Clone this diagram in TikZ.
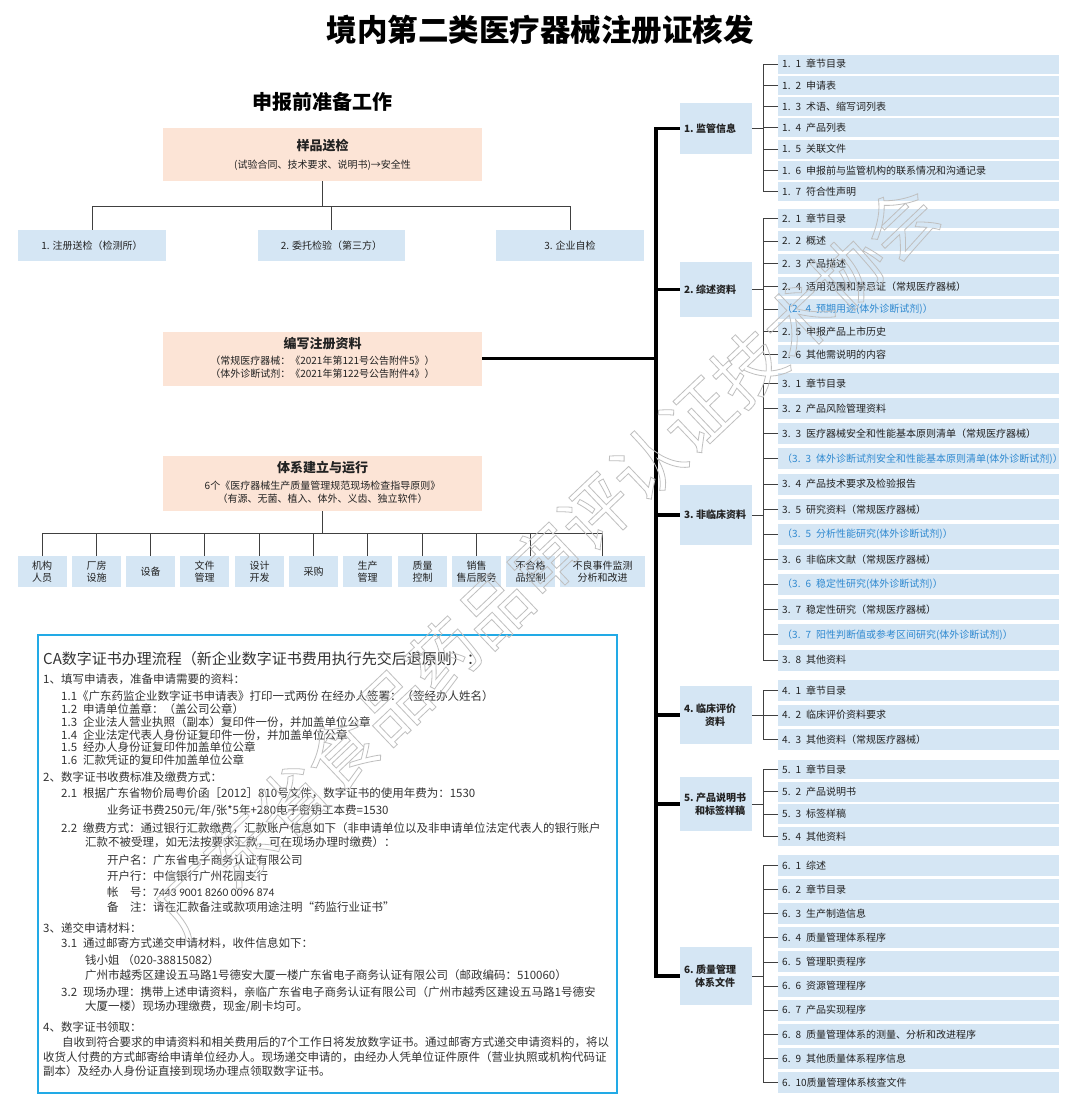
\documentclass[tikz,border=0pt]{standalone}
\usepackage{fontspec}
\setmainfont{Noto Sans CJK SC}
\newfontfamily\carl{Carlito}
\definecolor{peachc}{HTML}{FCE4D6}
\definecolor{boxblue}{HTML}{D5E6F4}
\definecolor{cablue}{HTML}{22AAE6}
\definecolor{bluetxt}{HTML}{2F89D0}
\definecolor{txt}{HTML}{222222}
\definecolor{catxt}{HTML}{333333}
\definecolor{linec}{HTML}{404040}
\newcommand\ggap{\hspace{5pt}}
\newcommand\cgap{\hspace{6pt}}
\newcommand\bluet[1]{\textcolor{bluetxt}{#1}}
\newcommand\catl[2]{\mbox{#1.\hspace{2.5pt}#2}}
\tikzset{
 conn/.style={draw=linec, line width=0.9pt},
 trunk/.style={draw=black, line width=3.4pt},
 peach/.style={fill=peachc, minimum width=319pt, minimum height=#1, inner sep=0pt},
 lbox/.style={fill=boxblue, minimum width=#1, minimum height=31pt, inner sep=1pt, align=center, font=\fontsize{10}{11.6}\selectfont, text=txt},
 ttl/.style={font=\fontsize{13}{15}\selectfont\bfseries, text=txt, inner sep=0pt},
 sub/.style={font=\fontsize{10}{12}\selectfont, text=txt, inner sep=0pt},
 caline/.style={anchor=west, font=\fontsize{11.5}{13}\selectfont, text=catxt, inner sep=0pt},
 item/.style={fill=boxblue, anchor=west, minimum height=#1, text width=273pt, inner xsep=4pt, inner ysep=0pt, align=left, font=\fontsize{10}{12}\selectfont, text=txt},
 cat/.style={fill=boxblue, minimum width=72pt, minimum height=#1, text width=64pt, inner xsep=4pt, inner ysep=0pt, align=left, font=\fontsize{10}{13}\selectfont\bfseries, text=txt},
 wm/.style={rotate=43.5, font=\fontsize{70}{70}\selectfont, text=gray!50, inner sep=0pt}
}
\begin{document}
\begin{tikzpicture}[x=1pt,y=-1pt]
\path[use as bounding box, fill=white] (0,0) rectangle (1080,1109);

% titles
\node[font=\fontsize{30.5}{32}\selectfont\bfseries, text=black, inner sep=0pt] (title) at (540,30) {境内第二类医疗器械注册证核发};
\node[font=\fontsize{20}{22}\selectfont\bfseries, text=black, inner sep=0pt] (sect) at (322.5,102) {申报前准备工作};

% sample box
\node[peach=53pt] (p1) at (322.5,154.5) {};
\node[ttl] (p1a) at (322.5,146) {样品送检};
\node[sub] (p1b) at (322.5,165) {(试验合同、技术要求、说明书)→安全性};
\node[lbox=148pt] (b1) at (92,245.5) {1. 注册送检（检测所）};
\node[lbox=147pt] (b2) at (331.5,245.5) {2. 委托检验（第三方）};
\node[lbox=148pt] (b3) at (570,245.5) {3. 企业自检};
\coordinate (j1) at (322.5,206);
\draw[conn] (p1.south) -- (j1);
\draw[conn] (b1.north) |- (b3.north |- j1) -- (b3.north);
\draw[conn] (b2.north) -- (b2.north |- j1);

% writing box
\node[peach=54pt] (p2) at (322.5,358.5) {};
\node[ttl] (p2a) at (322.5,344) {编写注册资料};
\node[sub] (p2b) at (322.5,361) {（常规医疗器械：《2021年第121号公告附件5》）};
\node[sub] (p2c) at (322.5,374) {（体外诊断试剂：《2021年第122号公告附件4》）};

% system box
\node[peach=55pt] (p3) at (322.5,483.5) {};
\node[ttl] (p3a) at (322.5,468) {体系建立与运行};
\node[sub] (p3b) at (322.5,486) {6个《医疗器械生产质量管理规范现场检查指导原则》};
\node[sub] (p3c) at (322.5,499) {（有源、无菌、植入、体外、义齿、独立软件）};

\node[lbox=49pt] (r1) at (42,571.5) {机构\\人员};
\node[lbox=49pt] (r2) at (96.5,571.5) {厂房\\设施};
\node[lbox=49pt] (r3) at (150.5,571.5) {设备};
\node[lbox=49pt] (r4) at (204.5,571.5) {文件\\管理};
\node[lbox=49pt] (r5) at (259.5,571.5) {设计\\开发};
\node[lbox=49pt] (r6) at (313.5,571.5) {采购};
\node[lbox=49pt] (r7) at (367.5,571.5) {生产\\管理};
\node[lbox=49pt] (r8) at (422.5,571.5) {质量\\控制};
\node[lbox=49pt] (r9) at (476.5,571.5) {销售\\售后服务};
\node[lbox=49pt] (r10) at (530.5,571.5) {不合格\\品控制};
\node[lbox=85pt] (r11) at (602.5,571.5) {不良事件监测\\分析和改进};
\coordinate (j3) at (322.5,533);
\draw[conn] (p3.south) -- (j3);
\draw[conn] (r1.north) |- (r11.north |- j3) -- (r11.north);
\foreach \r in {r2,r3,r4,r5,r6,r7,r8,r9,r10} \draw[conn] (\r.north) -- (\r.north |- j3);

% CA box
\draw[draw=cablue, line width=2.5pt] (38,635) rectangle (617,1093);
\node[caline, font=\fontsize{15}{17}\selectfont] (ca0) at (43,659) {CA数字证书办理流程（新企业数字证书费用执行先交后退原则）：};
\node[caline] (ca1) at (43,679) {1、填写申请表，准备申请需要的资料：};
\node[caline] (ca2) at (61,696) {1.1《广东药监企业数字证书申请表》打印一式两份 在经办人签署：（签经办人姓名）};
\node[caline] (ca3) at (61,709) {1.2\cgap 申请单位盖章：（盖公司公章）};
\node[caline] (ca4) at (61,722) {1.3\cgap 企业法人营业执照（副本）复印件一份，并加盖单位公章};
\node[caline] (ca5) at (61,735) {1.4\cgap 企业法定代表人身份证复印件一份，并加盖单位公章};
\node[caline] (ca6) at (61,747) {1.5\cgap 经办人身份证复印件加盖单位公章};
\node[caline] (ca7) at (61,760) {1.6\cgap 汇款凭证的复印件加盖单位公章};
\node[caline] (ca8) at (43,777) {2、数字证书收费标准及缴费方式：};
\node[caline] (ca9) at (61,793) {2.1\cgap 根据广东省物价局粤价函［2012］810号文件，数字证书的使用年费为：1530};
\node[caline] (ca10) at (107,811) {业务证书费250元/年/张*5年+280电子密钥工本费=1530};
\node[caline] (ca11) at (61,828) {2.2\cgap 缴费方式：通过银行汇款缴费，汇款账户信息如下（非申请单位以及非申请单位法定代表人的银行账户};
\node[caline] (ca12) at (85,842) {汇款不被受理，如无法按要求汇款，可在现场办理时缴费）：};
\node[caline] (ca13) at (107,860) {开户名：广东省电子商务认证有限公司};
\node[caline] (ca14) at (107,876) {开户行：中信银行广州花园支行};
\node[caline] (ca15) at (107,892) {帐　号：{\carl 7443 9001 8260 0096 874}};
\node[caline] (ca16) at (107,907) {备　注：请在汇款备注或款项用途注明“药监行业证书”};
\node[caline] (ca17) at (43,928) {3、递交申请材料：};
\node[caline] (ca18) at (61,943) {3.1\cgap 通过邮寄方式递交申请材料，收件信息如下：};
\node[caline] (ca19) at (85,960) {钱小姐 （020-38815082）};
\node[caline] (ca20) at (85,975) {广州市越秀区建设五马路1号德安大厦一楼广东省电子商务认证有限公司（邮政编码：510060）};
\node[caline] (ca21) at (61,992) {3.2\cgap 现场办理：携带上述申请资料，亲临广东省电子商务认证有限公司（广州市越秀区建设五马路1号德安};
\node[caline] (ca22) at (85,1007) {大厦一楼）现场办理缴费，现金/刷卡均可。};
\node[caline] (ca23) at (43,1027) {4、数字证书领取：};
\node[caline] (ca24) at (62,1042) {自收到符合要求的申请资料和相关费用后的7个工作日将发放数字证书。通过邮寄方式递交申请资料的，将以};
\node[caline] (ca25) at (43,1057) {收货人付费的方式邮寄给申请单位经办人。现场递交申请的，由经办人凭单位证件原件（营业执照或机构代码证};
\node[caline] (ca26) at (43,1071) {副本）及经办人身份证直接到现场办理点领取数字证书。};

% right side categories
\node[cat=51pt] (c1) at (716,128.5) {\catl{1}{监管信息}};
\node[cat=55pt] (c2) at (716,289.5) {\catl{2}{综述资料}};
\node[cat=60pt] (c3) at (716,515) {\catl{3}{非临床资料}};
\node[cat=58pt] (c4) at (716,715) {\catl{4}{临床评价}\\\hspace*{21pt}资料};
\node[cat=54pt] (c5) at (716,804) {\catl{5}{产品说明书}\\\hspace*{11pt}和标签样稿};
\node[cat=58pt] (c6) at (716,976) {\catl{6}{质量管理}\\\hspace*{11pt}体系文件};

% items
\foreach \t [count=\k] in {1. 1\ggap 章节目录, 1. 2\ggap 申请表, 1. 3\ggap 术语、缩写词列表, 1. 4\ggap 产品列表, 1. 5\ggap 关联文件, 1. 6\ggap 申报前与监管机构的联系情况和沟通记录, 1. 7\ggap 符合性声明}
  \node[item=19pt] (ga\k) at (778,{64+(\k-1)*21.25}) {\t};
\foreach \t [count=\k] in {2. 1\ggap 章节目录, 2. 2\ggap 概述, 2. 3\ggap 产品描述, 2. 4\ggap 适用范围和禁忌证（常规医疗器械）, {\bluet{（2. 4\ggap 预期用途(体外诊断试剂)）}}, 2. 5\ggap 申报产品上市历史, 2. 6\ggap 其他需说明的内容}
  \node[item=19.5pt] (gb\k) at (778,{218.5+(\k-1)*22.67}) {\t};
\foreach \t [count=\k] in {3. 1\ggap 章节目录, 3. 2\ggap 产品风险管理资料, 3. 3\ggap 医疗器械安全和性能基本原则清单（常规医疗器械）, {\bluet{（3. 3\ggap 体外诊断试剂安全和性能基本原则清单(体外诊断试剂)）}}, 3. 4\ggap 产品技术要求及检验报告, 3. 5\ggap 研究资料（常规医疗器械）, {\bluet{（3. 5\ggap 分析性能研究(体外诊断试剂)）}}, 3. 6\ggap 非临床文献（常规医疗器械）, {\bluet{（3. 6\ggap 稳定性研究(体外诊断试剂)）}}, 3. 7\ggap 稳定性研究（常规医疗器械）, {\bluet{（3. 7\ggap 阳性判断值或参考区间研究(体外诊断试剂)）}}, 3. 8\ggap 其他资料}
  \node[item=21pt] (gc\k) at (778,{383.5+(\k-1)*25.14}) {\t};
\foreach \t [count=\k] in {4. 1\ggap 章节目录, 4. 2\ggap 临床评价资料要求, 4. 3\ggap 其他资料（常规医疗器械）}
  \node[item=21pt] (gd\k) at (778,{690.5+(\k-1)*24.5}) {\t};
\foreach \t [count=\k] in {5. 1\ggap 章节目录, 5. 2\ggap 产品说明书, 5. 3\ggap 标签样稿, 5. 4\ggap 其他资料}
  \node[item=19.5pt] (ge\k) at (778,{769.5+(\k-1)*22.33}) {\t};
\foreach \t [count=\k] in {6. 1\ggap 综述, 6. 2\ggap 章节目录, 6. 3\ggap 生产制造信息, 6. 4\ggap 质量管理体系程序, 6. 5\ggap 管理职责程序, 6. 6\ggap 资源管理程序, 6. 7\ggap 产品实现程序, 6. 8\ggap 质量管理体系的测量、分析和改进程序, 6. 9\ggap 其他质量体系程序信息, 6. 10质量管理体系核查文件}
  \node[item=21pt] (gf\k) at (778,{865.5+(\k-1)*24.11}) {\t};

% combs
\coordinate (K) at (763,0);
\foreach \c/\g/\n in {c1/ga/7, c2/gb/7, c3/gc/12, c4/gd/3, c5/ge/4, c6/gf/10} {
  \draw[conn] (\c.east) -- (\c.east -| K);
  \draw[conn] (\g1.west) -- (\g1.west -| K) -- (\g\n.west -| K) -- (\g\n.west);
  \foreach \k in {2,...,\n} \draw[conn] (\g\k.west) -- (\g\k.west -| K);
}

% trunk
\coordinate (T) at (656,0);
\draw[trunk] (c1.west) -- (c1.west -| T) -- (c6.west -| T) -- (c6.west);
\foreach \c in {c2,c3,c4,c5} \draw[trunk] (\c.west -| T) -- (\c.west);
\draw[trunk] (p2.east) -- (p2.east -| T);

% watermark
\node[wm] (wm) at (545,560) {\special{pdf:literal 1 Tr 0.8 w}广东省食品药品审评认证技术协会\special{pdf:literal 0 Tr}};
\end{tikzpicture}
\end{document}
